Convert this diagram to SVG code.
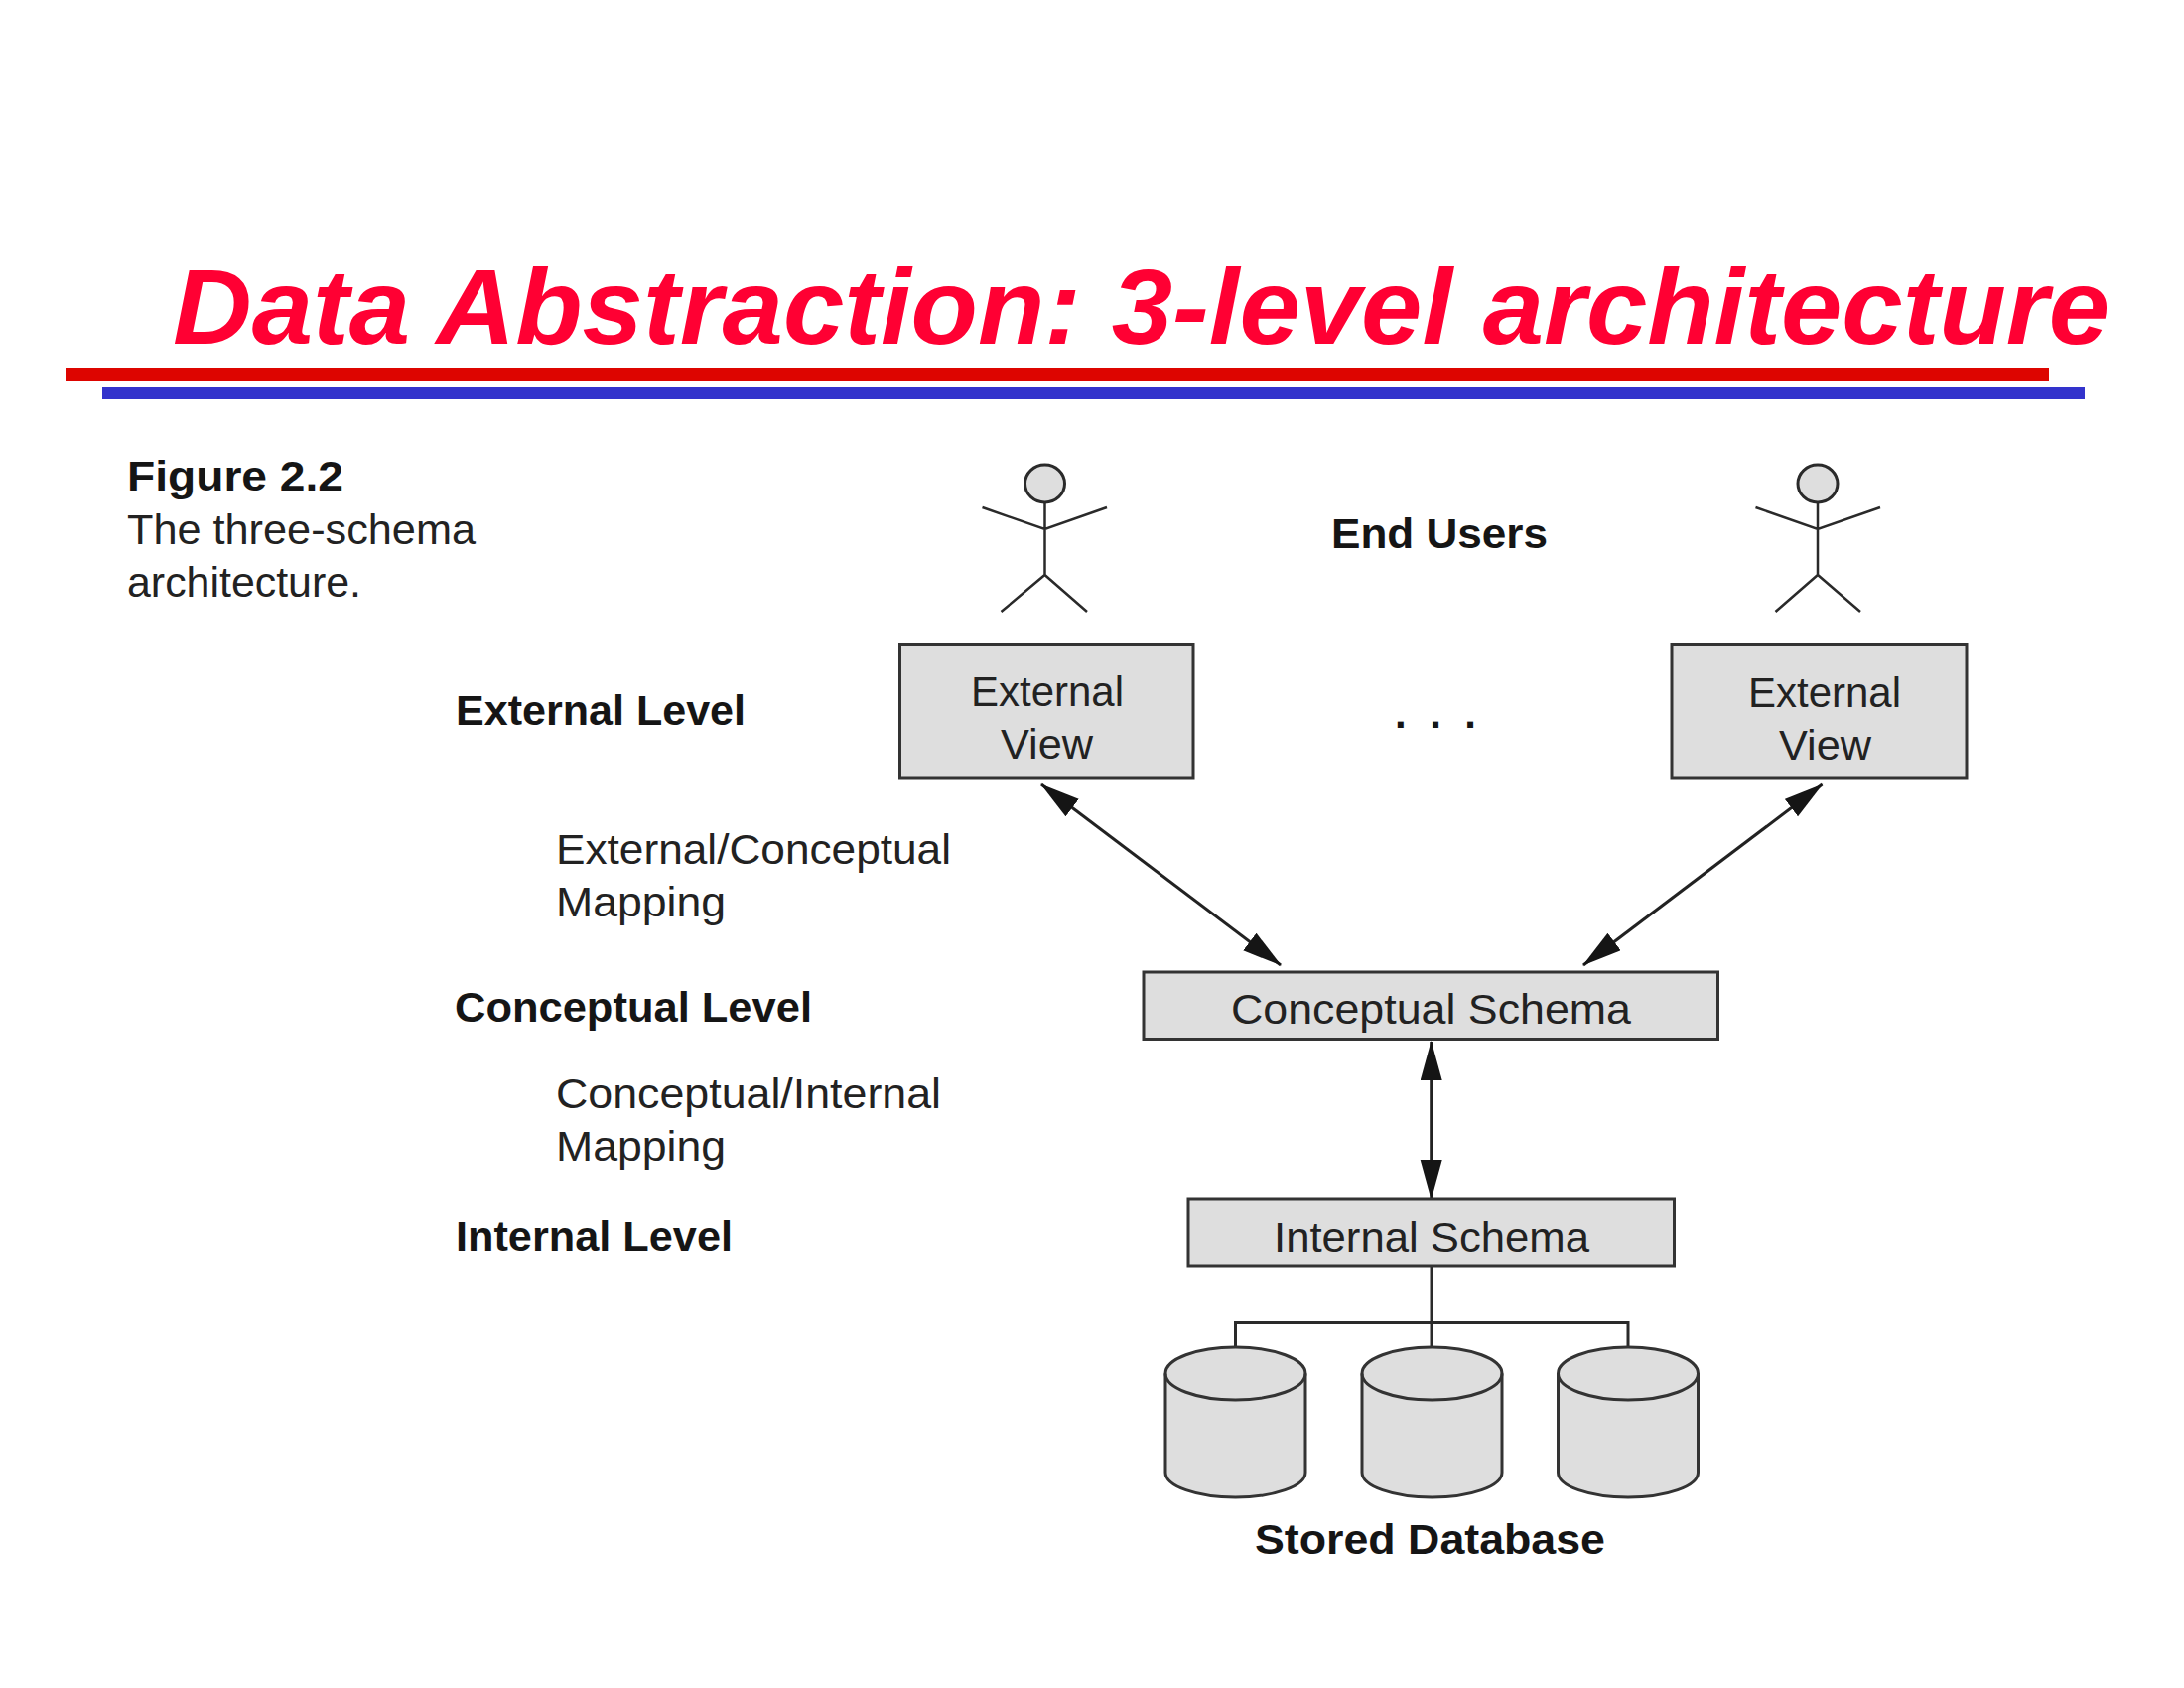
<svg xmlns="http://www.w3.org/2000/svg" width="2200" height="1700" viewBox="0 0 2200 1700">
<defs>
<style>
text{font-family:"Liberation Sans",Arial,sans-serif;font-size:42px;fill:#222;}
.b{font-weight:700;fill:#151515;}
.title{font-size:108px;font-weight:700;font-style:italic;fill:#ff0033;}
.box{fill:#dedede;stroke:#333;stroke-width:3;}
.cyl{fill:#dedede;stroke:#333;stroke-width:3;}
.cyl2{fill:none;stroke:#333;stroke-width:3;}
.fig{fill:none;stroke:#2a2a2a;stroke-width:2.5;}
.head{fill:#dedede;stroke:#2a2a2a;stroke-width:3;}
.link{fill:none;stroke:#2a2a2a;stroke-width:3;}
.arrow{fill:none;stroke:#222;stroke-width:3;marker-start:url(#tip);marker-end:url(#tip);}
</style>
<marker id="tip" markerUnits="userSpaceOnUse" markerWidth="44" markerHeight="26" refX="39" refY="11" orient="auto-start-reverse" viewBox="0 0 44 26">
<path d="M0 0L40 11L0 22Z" fill="#151515"/>
</marker>
</defs>
<rect width="2200" height="1700" fill="#fff"/>
<g id="title">
<text class="title" x="174" y="346" textLength="1951" lengthAdjust="spacingAndGlyphs">Data Abstraction: 3-level architecture</text>
<rect x="66" y="371" width="1998" height="13" fill="#dd0500"/>
<rect x="103" y="390" width="1997" height="12" fill="#3333cc"/>
</g>
<g id="caption">
<text class="b" x="128" y="494" textLength="218" lengthAdjust="spacingAndGlyphs">Figure 2.2</text>
<text x="128" y="548" textLength="351" lengthAdjust="spacingAndGlyphs">The three-schema</text>
<text x="128" y="601" textLength="236" lengthAdjust="spacingAndGlyphs">architecture.</text>
</g>
<g id="labels">
<text class="b" x="459" y="730" textLength="292" lengthAdjust="spacingAndGlyphs">External Level</text>
<text x="560" y="870" textLength="398" lengthAdjust="spacingAndGlyphs">External/Conceptual</text>
<text x="560" y="923" textLength="171" lengthAdjust="spacingAndGlyphs">Mapping</text>
<text class="b" x="458" y="1029" textLength="360" lengthAdjust="spacingAndGlyphs">Conceptual Level</text>
<text x="560" y="1116" textLength="388" lengthAdjust="spacingAndGlyphs">Conceptual/Internal</text>
<text x="560" y="1169" textLength="171" lengthAdjust="spacingAndGlyphs">Mapping</text>
<text class="b" x="459" y="1260" textLength="279" lengthAdjust="spacingAndGlyphs">Internal Level</text>
<text class="b" x="1341" y="552" textLength="218" lengthAdjust="spacingAndGlyphs">End Users</text>
<text class="b" x="1405" y="733" textLength="82">. . .</text>
<text class="b" x="1264" y="1565" textLength="353" lengthAdjust="spacingAndGlyphs">Stored Database</text>
</g>
<g id="connectors">
<line class="arrow" x1="1049" y1="790" x2="1290" y2="972"/>
<line class="arrow" x1="1835.5" y1="790" x2="1595" y2="972"/>
<line class="arrow" x1="1441.7" y1="1049" x2="1441.7" y2="1207"/>
<path class="link" d="M1442 1276V1357M1244.5 1357V1331.5H1640V1357"/>
</g>
<g id="user-1">
<ellipse class="head" cx="1052.5" cy="487" rx="20" ry="19"/>
<path class="fig" d="M1052.5 506V579M989.5 511L1052.5 533L1115 511M1008.5 616L1052.5 579L1095 616"/>
</g>
<g id="user-2">
<ellipse class="head" cx="1831" cy="487" rx="20" ry="19"/>
<path class="fig" d="M1831 506V579M1768.5 511L1831 533L1894 511M1788.5 616L1831 579L1874 616"/>
</g>
<g id="external-view-1">
<rect class="box" x="906.5" y="649.5" width="295.5" height="134.5"/>
<text x="978" y="711" textLength="154" lengthAdjust="spacingAndGlyphs">External</text>
<text x="1008" y="764" textLength="93" lengthAdjust="spacingAndGlyphs">View</text>
</g>
<g id="external-view-2">
<rect class="box" x="1684" y="649.5" width="297" height="134.5"/>
<text x="1761" y="712" textLength="154" lengthAdjust="spacingAndGlyphs">External</text>
<text x="1792" y="765" textLength="93" lengthAdjust="spacingAndGlyphs">View</text>
</g>
<g id="conceptual-schema">
<rect class="box" x="1152" y="979" width="578.5" height="67.5"/>
<text x="1240" y="1031" textLength="403" lengthAdjust="spacingAndGlyphs">Conceptual Schema</text>
</g>
<g id="internal-schema">
<rect class="box" x="1197" y="1208" width="489.5" height="67"/>
<text x="1283" y="1261" textLength="318" lengthAdjust="spacingAndGlyphs">Internal Schema</text>
</g>
<g id="database-1"><path class="cyl" d="M1174 1383.5A70.5 26.5 0 0 1 1315 1383.5V1483A70.5 25 0 0 1 1174 1483Z"/><path class="cyl2" d="M1174 1383.5A70.5 26.5 0 0 0 1315 1383.5"/></g>
<g id="database-2"><path class="cyl" d="M1372 1383.5A70.5 26.5 0 0 1 1513 1383.5V1483A70.5 25 0 0 1 1372 1483Z"/><path class="cyl2" d="M1372 1383.5A70.5 26.5 0 0 0 1513 1383.5"/></g>
<g id="database-3"><path class="cyl" d="M1569.5 1383.5A70.5 26.5 0 0 1 1710.5 1383.5V1483A70.5 25 0 0 1 1569.5 1483Z"/><path class="cyl2" d="M1569.5 1383.5A70.5 26.5 0 0 0 1710.5 1383.5"/></g>
</svg>
